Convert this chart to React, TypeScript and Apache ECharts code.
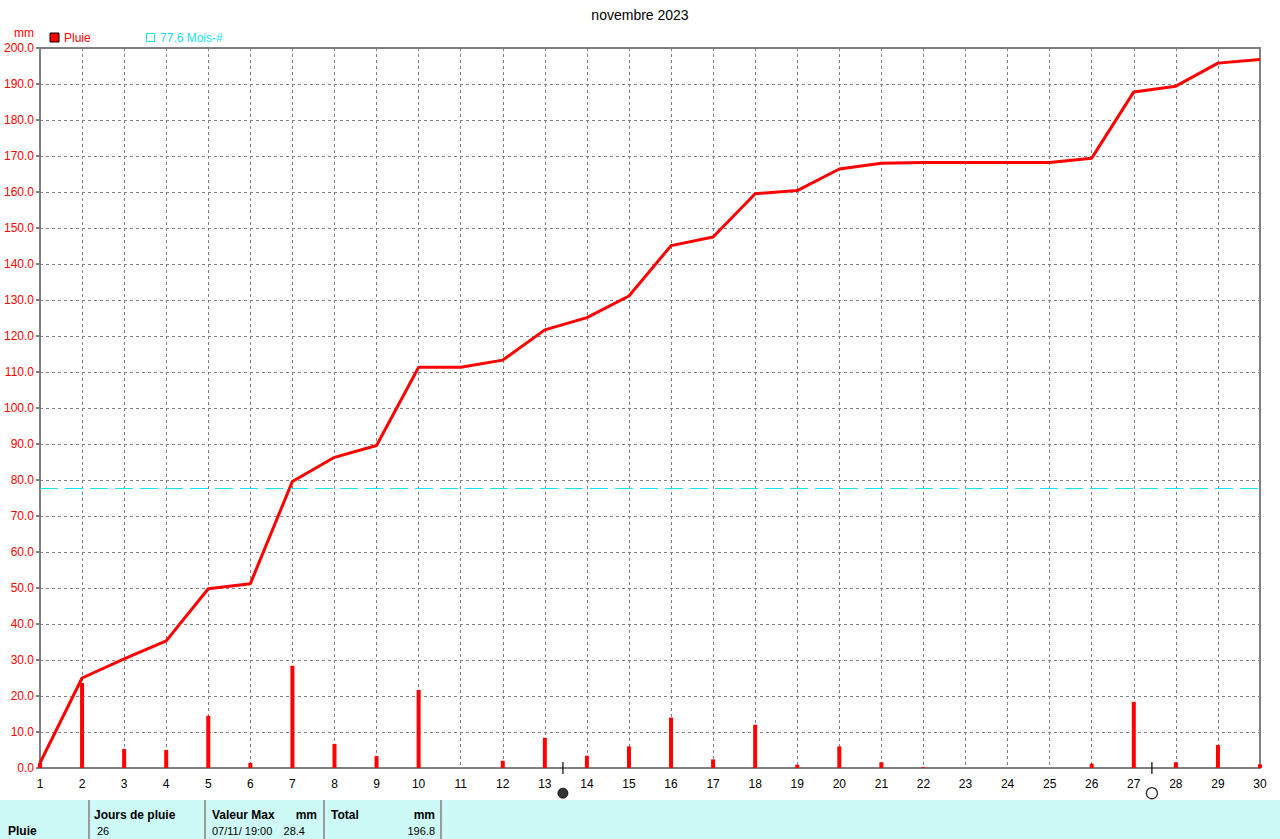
import React, { useEffect, useRef } from "react";
import * as echarts from "echarts";

const days = Array.from({ length: 30 }, (_, i) => String(i + 1));
const rain = [
  1.4, 23.6, 5.3, 5.0, 14.5, 1.4, 28.4, 6.7, 3.3, 21.7,
  0, 2.0, 8.4, 3.4, 6.0, 14.0, 2.4, 12.0, 0.9, 6.0,
  1.6, 0.2, 0, 0, 0, 1.2, 18.4, 1.6, 6.4, 1.0,
];
const monthlyMean = 77.6;
const newMoon = [13.43];
const fullMoon = [27.43];

const RED = "#ff0000";
const GRAY = "#808080";
const CYAN = "#14e4ec";
const FONT = "'Liberation Sans', Arial, sans-serif";

export default function App() {
  const ref = useRef<HTMLDivElement>(null);
  useEffect(() => {
    if (!ref.current) return;
    const chart = echarts.init(ref.current, null, { renderer: "svg" });
    const cumul: number[] = [];
    rain.reduce((acc, v) => {
      const s = Math.round((acc + v) * 10) / 10;
      cumul.push(s);
      return s;
    }, 0);
    const total = cumul[cumul.length - 1];
    const rainyDays = rain.filter((v) => v > 0).length;
    const maxVal = Math.max(...rain);

    const grid = { left: 40, right: 20, top: 48, bottom: 71, show: true, borderColor: GRAY, borderWidth: 2, backgroundColor: "transparent" };

    chart.setOption({
      animation: false,
      textStyle: { fontFamily: FONT },
      title: {
        text: "novembre 2023",
        left: "center",
        top: 3,
        textStyle: { fontSize: 14, fontWeight: "normal", color: "#000", fontFamily: FONT },
      },
      grid,
      xAxis: [
        {
          type: "category",
          data: days,
          boundaryGap: false,
          axisLine: { lineStyle: { color: GRAY, width: 2 } },
          axisTick: { show: false },
          axisLabel: { color: "#000", fontSize: 12, margin: 10, fontFamily: FONT },
          splitLine: { show: true, lineStyle: { color: GRAY, type: [3, 3], width: 1 } },
        },
        {
          type: "value",
          min: 1,
          max: 30,
          show: false,
        },
      ],
      yAxis: {
        type: "value",
        min: 0,
        max: 200,
        interval: 10,
        axisLine: { show: true, lineStyle: { color: GRAY, width: 2 } },
        axisTick: { show: true, length: 4, lineStyle: { color: GRAY, width: 2 } },
        axisLabel: {
          color: RED,
          fontSize: 12,
          margin: 6,
          fontFamily: FONT,
          formatter: (v: number) => v.toFixed(1),
        },
        splitLine: { show: true, lineStyle: { color: GRAY, type: [3, 3], width: 1 } },
      },
      series: [
        {
          name: "Pluie",
          type: "bar",
          data: rain,
          barWidth: 4,
          itemStyle: { color: RED },
          z: 3,
        },
        {
          name: "Cumul",
          type: "line",
          data: cumul,
          showSymbol: false,
          symbol: "none",
          lineStyle: { color: RED, width: 3 },
          z: 4,
          markLine: {
            silent: true,
            symbol: "none",
            label: { show: false },
            lineStyle: { color: CYAN, type: [18, 7], width: 1 },
            data: [{ yAxis: monthlyMean }],
          },
        },
        {
          name: "ticks",
          type: "scatter",
          xAxisIndex: 1,
          clip: false,
          symbol: "rect",
          symbolSize: [1.5, 12],
          itemStyle: { color: "#000" },
          data: [...newMoon, ...fullMoon].map((d) => [d, 0]),
          z: 5,
        },
        {
          name: "newMoon",
          type: "scatter",
          xAxisIndex: 1,
          clip: false,
          symbol: "circle",
          symbolSize: 10,
          itemStyle: { color: "#000", borderColor: "#000", borderWidth: 1 },
          data: newMoon.map((d) => [d, -7]),
          z: 5,
        },
        {
          name: "fullMoon",
          type: "scatter",
          xAxisIndex: 1,
          clip: false,
          symbol: "circle",
          symbolSize: 11,
          itemStyle: { color: "#fff", borderColor: "#000", borderWidth: 1.3 },
          data: fullMoon.map((d) => [d, -7]),
          z: 5,
        },
      ],
      graphic: [
        { type: "text", left: 14, top: 27, style: { text: "mm", fill: RED, font: `12px ${FONT}` } },
        { type: "rect", shape: { x: 50, y: 33, width: 9, height: 9 }, style: { fill: RED, stroke: "#000", lineWidth: 1 } },
        { type: "text", x: 64, y: 32, style: { text: "Pluie", fill: RED, font: `12px ${FONT}` } },
        { type: "rect", shape: { x: 146.5, y: 33.5, width: 8, height: 8 }, style: { fill: "none", stroke: CYAN, lineWidth: 1 } },
        { type: "text", x: 160, y: 32, style: { text: `${monthlyMean.toFixed(1)} Mois-#`, fill: CYAN, font: `12px ${FONT}` } },
        // bottom table
        { type: "rect", shape: { x: 0, y: 800, width: 1280, height: 39 }, style: { fill: "#cdf9f6" } },
        ...[89, 205, 324, 441].map((x) => ({
          type: "line",
          shape: { x1: x, y1: 800, x2: x, y2: 839 },
          style: { stroke: "#9a9a9a", lineWidth: 2 },
        })),
        { type: "text", x: 8, y: 825, style: { text: "Pluie", fill: "#000", font: `bold 12px ${FONT}` } },
        { type: "text", x: 94, y: 809, style: { text: "Jours de pluie", fill: "#000", font: `bold 12px ${FONT}` } },
        { type: "text", x: 212, y: 809, style: { text: "Valeur Max", fill: "#000", font: `bold 12px ${FONT}` } },
        { type: "text", x: 317, y: 809, style: { text: "mm", fill: "#000", font: `bold 12px ${FONT}`, align: "right" } },
        { type: "text", x: 331, y: 809, style: { text: "Total", fill: "#000", font: `bold 12px ${FONT}` } },
        { type: "text", x: 435, y: 809, style: { text: "mm", fill: "#000", font: `bold 12px ${FONT}`, align: "right" } },
        { type: "text", x: 97, y: 825, style: { text: String(rainyDays), fill: "#000", font: `11px ${FONT}` } },
        { type: "text", x: 212, y: 825, style: { text: "07/11/ 19:00", fill: "#000", font: `11px ${FONT}` } },
        { type: "text", x: 305, y: 825, style: { text: maxVal.toFixed(1), fill: "#000", font: `11px ${FONT}`, align: "right" } },
        { type: "text", x: 435, y: 825, style: { text: total.toFixed(1), fill: "#000", font: `11px ${FONT}`, align: "right" } },
      ],
    });
    return () => chart.dispose();
  }, []);
  return (
    <div
      ref={ref}
      style={{ position: "fixed", left: 0, top: 0, width: 1280, height: 839, background: "#fff" }}
    />
  );
}
